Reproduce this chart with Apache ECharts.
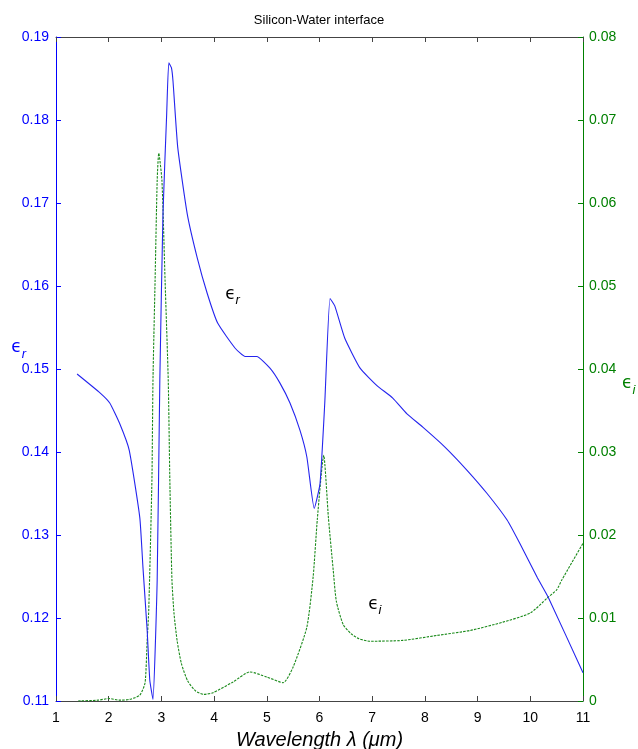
<!DOCTYPE html>
<html>
<head>
<meta charset="utf-8">
<script src="https://cdn.jsdelivr.net/npm/echarts@6/dist/echarts.min.js"></script>
<style>html,body{margin:0;padding:0;background:#fff}#c{width:638px;height:749px}</style>
</head>
<body>
<div id="c"></div>
<script>
const titleText = 'Silicon-Water interface';
const xTicks = [1,2,3,4,5,6,7,8,9,10,11];
const erX = [1.4,1.84,2.02,2.21,2.39,2.59,2.65,2.73,2.78,2.84,2.92,2.97,3.03,3.1,3.14,3.19,3.22,3.31,3.49,3.68,3.87,4.07,4.4,4.59,4.81,5.06,5.25,5.44,5.63,5.76,5.9,6.01,6.1,6.2,6.29,6.48,6.77,7.09,7.39,7.66,7.96,8.38,8.8,9.18,9.56,9.8,10.13,10.34,11];
const erY = [0.1494,0.1471,0.1459,0.1434,0.1402,0.1321,0.1261,0.1185,0.1125,0.1102,0.1246,0.1486,0.1687,0.1807,0.1869,0.1863,0.1847,0.1767,0.1687,0.1634,0.1591,0.1555,0.1525,0.1515,0.1515,0.1501,0.1483,0.1459,0.1426,0.1394,0.1332,0.1362,0.1459,0.1585,0.1576,0.1537,0.1501,0.148,0.1465,0.1446,0.143,0.1406,0.1378,0.135,0.1318,0.129,0.1249,0.1225,0.1134];
const eiX = [1.42,1.8,2.0,2.2,2.4,2.59,2.69,2.73,2.76,2.82,2.84,2.88,2.92,2.95,3.01,3.07,3.13,3.16,3.2,3.24,3.3,3.38,3.5,3.65,3.8,3.98,4.36,4.68,5.0,5.31,5.5,5.76,5.88,5.96,6.08,6.17,6.26,6.32,6.45,6.6,6.75,6.96,7.58,8.23,8.86,9.48,10.0,10.32,10.5,10.6,11];
const eiY = [0.0,0.0001,0.0003,0.0001,0.0002,0.0007,0.0022,0.0073,0.011,0.0266,0.0386,0.0506,0.0627,0.066,0.0627,0.0506,0.0386,0.0266,0.0146,0.0105,0.0072,0.0045,0.0024,0.0012,0.0008,0.001,0.0023,0.0035,0.0029,0.0022,0.0041,0.0089,0.015,0.022,0.0296,0.022,0.0158,0.012,0.0092,0.0081,0.0075,0.0072,0.0073,0.0079,0.0085,0.0095,0.0106,0.0124,0.0134,0.0146,0.019];
const erLabelPos = [4.35, 0.159];
const eiLabelPos = [7.05, 0.0116];

const BLUE = '#0000ff', GREEN = '#008000';
const FONT = '"Liberation Sans", Arial, sans-serif';
const chart = echarts.init(document.getElementById('c'));
const epsRich = (color) => ({
  e: {fontSize: 17, color: color, fontFamily: 'DejaVu Sans', fontStyle: 'normal'},
  s: {fontSize: 13, color: color, fontFamily: FONT, fontStyle: 'italic', padding: [12,0,0,0]}
});
chart.setOption({
  animation: false,
  title: {text: titleText, left: 'center', top: 9, textStyle: {fontSize: 13, fontWeight: 'normal', color: '#000', fontFamily: FONT}},
  grid: {left: 56, right: 55, top: 37, bottom: 48, containLabel: false, outerBoundsMode: 'none'},
  xAxis: [{
    type: 'value', min: 1, max: 11, interval: 1, position: 'bottom',
    axisLine: {lineStyle: {color: '#444', width: 1}},
    axisTick: {inside: true, length: 5, lineStyle: {color: '#444'}},
    axisLabel: {color: '#000', fontSize: 14, fontFamily: FONT, margin: 10},
    splitLine: {show: false},
    name: 'Wavelength \u03bb (\u03bcm)', nameLocation: 'middle', nameGap: 29, nameMoveOverlap: false,
    nameTextStyle: {fontSize: 20, fontStyle: 'italic', color: '#000', fontFamily: FONT}
  },{
    type: 'value', min: 1, max: 11, interval: 1, position: 'top',
    axisLine: {lineStyle: {color: '#444', width: 1}},
    axisTick: {inside: true, length: 5, lineStyle: {color: '#444'}},
    axisLabel: {show: false}, splitLine: {show: false}
  }],
  yAxis: [{
    type: 'value', min: 0.11, max: 0.19, interval: 0.01, position: 'left',
    axisLine: {show: true, lineStyle: {color: BLUE, width: 1}},
    axisTick: {show: true, inside: true, length: 5, lineStyle: {color: BLUE}},
    axisLabel: {color: BLUE, fontSize: 14, fontFamily: FONT, margin: 7, formatter: v => v.toFixed(2)},
    splitLine: {show: false},
    name: '{e|\u03f5}{s|r}', nameLocation: 'middle', nameGap: 30, nameRotate: 0, nameMoveOverlap: false,
    nameTextStyle: {rich: epsRich(BLUE), padding: [0,0,42,0]}
  },{
    type: 'value', min: 0, max: 0.08, interval: 0.01, position: 'right',
    axisLine: {show: true, lineStyle: {color: GREEN, width: 1}},
    axisTick: {show: true, inside: true, length: 5, lineStyle: {color: GREEN}},
    axisLabel: {color: GREEN, fontSize: 14, fontFamily: FONT, margin: 6, formatter: v => v === 0 ? '0' : v.toFixed(2)},
    splitLine: {show: false},
    name: '{e|\u03f5}{s|i}', nameLocation: 'middle', nameGap: 39, nameRotate: 0, nameMoveOverlap: false,
    nameTextStyle: {rich: epsRich(GREEN), padding: [30,0,0,0]}
  }],
  series: [{
    type: 'line', xAxisIndex: 0, yAxisIndex: 0, showSymbol: false, symbol: 'none',
    smooth: 0.15,
    data: erX.map((x, i) => [x, erY[i]]),
    lineStyle: {color: '#2424ee', width: 1.1}, z: 3,
    markPoint: {symbol: 'circle', symbolSize: 0, silent: true,
      data: [{coord: erLabelPos, label: {show: true, formatter: '{e|\u03f5}{s|r}', rich: epsRich('#000')}}]}
  },{
    type: 'line', xAxisIndex: 0, yAxisIndex: 1, showSymbol: false, symbol: 'none',
    smooth: 0.2,
    data: eiX.map((x, i) => [x, eiY[i]]),
    lineStyle: {color: '#1a8a1a', width: 1.1, type: [2.5, 1.2]}, z: 2,
    markPoint: {symbol: 'circle', symbolSize: 0, silent: true,
      data: [{coord: eiLabelPos, label: {show: true, formatter: '{e|\u03f5}{s|i}', rich: epsRich('#000')}}]}
  }]
});
</script>
</body>
</html>
